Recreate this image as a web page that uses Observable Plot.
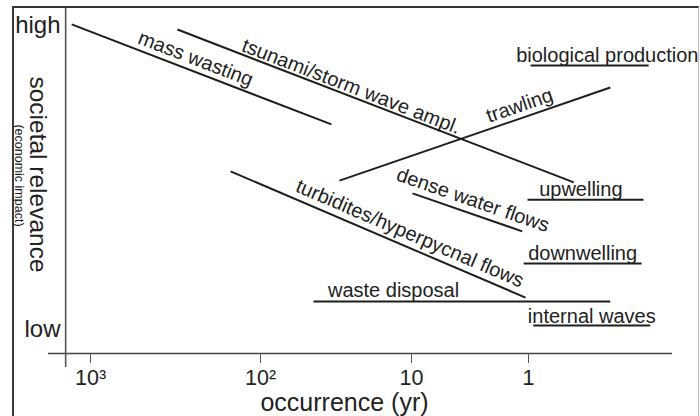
<!DOCTYPE html>
<html>
<head>
<meta charset="utf-8">
<script src="https://cdn.jsdelivr.net/npm/d3@7"></script>
<script src="https://cdn.jsdelivr.net/npm/@observablehq/plot@0.6"></script>
<style>
  body { margin: 0; background: #fff; }
  #wrap { position: relative; width: 700px; height: 416px; overflow: hidden; }
  #border { position: absolute; left: 12px; top: 6px; width: 684px; height: 440px;
            border-top: 2px solid #333; border-left: 2px solid #3a3a3a; border-right: 1px solid #bbb;
            pointer-events: none; }
</style>
</head>
<body>
<div id="wrap"><div id="border"></div></div>
<script>
// ---- data ----
const processes = ["mass wasting", "tsunami/storm wave ampl.", "trawling", "turbidites/hyperpycnal flows",
  "dense water flows", "waste disposal", "biological production", "upwelling", "downwelling", "internal waves"];
const occurrenceFrom = [1290, 308, 30, 150, 9.8, 44.6, 0.96, 1.02, 1.10, 0.91];   // yr
const occurrenceTo   = [33.9, 0.41, 0.2, 1.06, 1.13, 0.2, 0.094, 0.104, 0.108, 0.091]; // yr
const relevanceFrom  = [95.4, 93.9, 50.1, 52.8, 46.4, 15.1, 83.5, 44.6, 26.1, 8.1];
const relevanceTo    = [66.4, 49.6, 77.1, 16.2, 35.4, 15.1, 83.5, 44.6, 26.1, 8.1];
const xTickValues = [1000, 100, 10, 1];
const xTickLabels = ["10³", "10²", "10", "1"];
const yTickValues = [7, 95];
const yTickLabels = ["low", "high"];
const yAxisOrigin = 1400; // occurrence at which the vertical axis is drawn

// ---- layout (not data) ----
const labelAt  = [0.46, 0.43, 0.68, 0.59, 0.51, 0.27, 0.65, 0.46, 0.5, 0.5]; // fraction along line
const labelGap = [6, 3, 6, 7, 7, 4, 3, 4, 3, 3];                              // px above line
const xRange = [90, 260, 411, 528];
const yDomain = [0, 100], yRange = [353, 8];

const idx = d3.range(processes.length);
const sx = d3.scaleLog().domain(xTickValues).range(xRange);
const sy = d3.scaleLinear().domain(yDomain).range(yRange);
const labels = idx.map(i => {
  const x1 = sx(occurrenceFrom[i]), y1 = sy(relevanceFrom[i]);
  const x2 = sx(occurrenceTo[i]), y2 = sy(relevanceTo[i]);
  const a = Math.atan2(y2 - y1, x2 - x1), t = labelAt[i], g = labelGap[i];
  const px = x1 + t * (x2 - x1) + g * Math.sin(a);
  const py = y1 + t * (y2 - y1) - g * Math.cos(a);
  return {text: processes[i], x: sx.invert(px), y: sy.invert(py), angle: a * 180 / Math.PI};
});

const ink = "#222";
const plot = Plot.plot({
  width: 700, height: 416,
  marginLeft: 48, marginRight: 28, marginTop: 8, marginBottom: 49,
  style: {fontFamily: "'Liberation Sans', Arial, Helvetica, sans-serif", background: "transparent", color: ink, overflow: "visible"},
  x: {type: "log", domain: xTickValues, range: xRange, axis: null},
  y: {type: "linear", domain: yDomain, range: yRange, axis: null},
  marks: [
    Plot.ruleY([0], {stroke: "#444", strokeWidth: 1.6}),
    Plot.ruleX([yAxisOrigin], {stroke: "#555", strokeWidth: 1.6}),
    Plot.axisX(xTickValues, {anchor: "bottom", dy: -14, tickSize: 10, tickPadding: 6, fontSize: 21.5,
      stroke: "#555", fill: ink, label: null, tickFormat: d => xTickLabels[xTickValues.indexOf(d)]}),
    Plot.text(yTickValues, {y: d => d, text: d => yTickLabels[yTickValues.indexOf(d)], frameAnchor: "left",
      textAnchor: "end", lineAnchor: "middle", dx: 12, fontSize: 24, fill: ink}),
    Plot.text(["occurrence (yr)"], {frameAnchor: "bottom", textAnchor: "middle", lineAnchor: "bottom", dx: -16, dy: 43, fontSize: 25, fill: ink}),
    Plot.text(["societal relevance"], {frameAnchor: "left", rotate: 90, textAnchor: "middle", lineAnchor: "middle", dx: -11, dy: -13.5, fontSize: 24.5, fill: ink}),
    Plot.text(["(economic impact)"], {frameAnchor: "left", rotate: 90, textAnchor: "middle", lineAnchor: "middle", dx: -30, dy: -12.5, fontSize: 12.5, fill: ink}),
    Plot.link(idx, {x1: i => occurrenceFrom[i], x2: i => occurrenceTo[i], y1: i => relevanceFrom[i], y2: i => relevanceTo[i],
      stroke: "#1e1e1e", strokeWidth: 2}),
    Plot.text(labels, {x: "x", y: "y", text: "text", rotate: "angle", textAnchor: "middle", lineAnchor: "bottom",
      fontSize: 20, fill: ink})
  ]
});
document.getElementById("wrap").prepend(plot);
</script>
</body>
</html>
